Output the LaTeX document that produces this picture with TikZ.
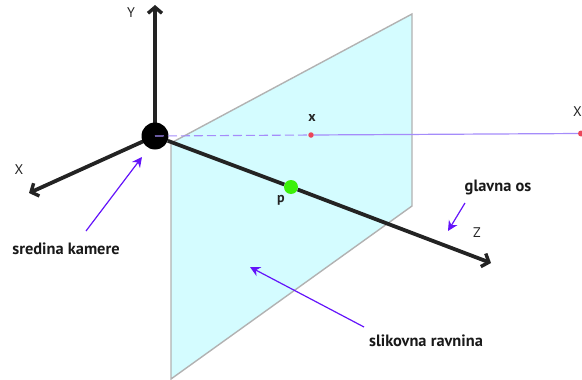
\documentclass[tikz,border=0pt]{standalone}
\usepackage{fontspec}
\setmainfont{PT Sans}
\usepackage{xcolor}
\usetikzlibrary{arrows.meta}
\definecolor{PlaneFill}{RGB}{212,252,255}
\definecolor{PlaneEdge}{RGB}{178,178,178}
\definecolor{AxisDark}{RGB}{35,35,35}
\definecolor{NoteViolet}{RGB}{100,20,250}
\definecolor{RayViolet}{RGB}{165,140,250}
\definecolor{PointRed}{RGB}{235,70,90}
\definecolor{PointGreen}{RGB}{60,240,10}
\begin{document}
\begin{tikzpicture}[x=1pt,y=-1pt,
axisline/.style={line width=3.8pt,draw=AxisDark},
axis/.style={axisline,-{Straight Barb[length=6pt,width=14pt,line width=3.4pt]}},
note/.style={-{Stealth[length=10pt,width=10pt]},line width=1.2pt,draw=NoteViolet},
axlabel/.style={font=\fontsize{14}{16}\selectfont,text=AxisDark,inner sep=0pt},
ptlabel/.style={font=\fontsize{14}{16}\selectfont\bfseries,text=AxisDark,inner sep=0pt},
notelabel/.style={font=\fontsize{16.4}{18}\selectfont\bfseries,text=black!90,inner sep=0pt},
dot/.style={circle,inner sep=0pt}
]
\useasboundingbox (0,0) rectangle (582,380);
% image plane
\coordinate (ptl) at (171,143);
\coordinate (ptr) at (412,14);
\coordinate (pbr) at (412,206);
\coordinate (pbl) at (171,379);
\draw[line width=1.4pt,draw=PlaneEdge,fill=PlaneFill] (ptl)--(ptr)--(pbr)--(pbl)--cycle;
% points
\coordinate (yend) at (155,5);
\coordinate (xend) at (29,193);
\coordinate (zend) at (491,263);
\coordinate (camc) at (155,136);
\draw[axis] (camc)--(yend);
\draw[axis] (camc)--(xend);
\node[dot,minimum size=27pt,fill=black] (cam) at (camc) {};
\node[dot,minimum size=5.5pt,fill=PointRed] (xim) at (311,135) {};
\node[dot,minimum size=6pt,fill=PointRed] (xw) at (581,133.5) {};
\node[dot,minimum size=14pt,fill=PointGreen] (pp) at (291,187) {};
% ray
\draw[line width=1.1pt,RayViolet,dash pattern=on 9pt off 4pt] (cam.center)--(xim);
\draw[line width=1.2pt,RayViolet] (xim)--(xw);
% axes
\draw[axisline] (cam)--(pp);
\draw[axis] (pp)--(zend);
% labels
\node[axlabel] (ylab) at (131,13) {Y};
\node[axlabel] (xlab) at (19,170) {X};
\node[axlabel] (zlab) at (477,233) {Z};
\node[ptlabel] (xlow) at (312,118) {x};
\node[axlabel,anchor=east] (xtop) at (582,112) {X};
\node[ptlabel] (plab) at (281,200) {p};
\node[notelabel] (center) at (66,249) {sredina kamere};
\node[notelabel] (axisname) at (498,187) {glavna os};
\node[notelabel] (plane) at (426,341) {slikovna ravnina};
% callouts
\coordinate (camtail) at (86,231);
\coordinate (camtip) at (142,157);
\coordinate (ostail) at (465,203);
\coordinate (ostip) at (448,231);
\coordinate (pltail) at (364,327);
\coordinate (pltip) at (250,267);
\draw[note] (camtail)--(camtip);
\draw[note] (ostail)--(ostip);
\draw[note] (pltail)--(pltip);
\end{tikzpicture}
\end{document}
